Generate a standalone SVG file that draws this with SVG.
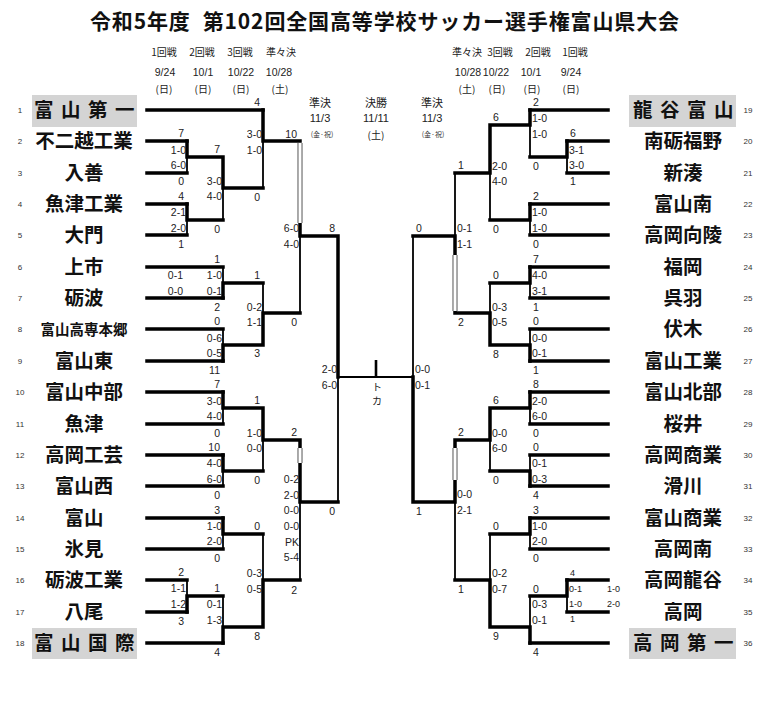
<svg xmlns="http://www.w3.org/2000/svg" width="769" height="707" viewBox="0 0 769 707">
<style>
.bg{fill:#fff}
.k{stroke:#000;stroke-width:3.5;fill:none;stroke-linecap:square}
.t{stroke:#000;stroke-width:1.8;fill:none}
.dbo{stroke:#8a8a8a;stroke-width:5.5;fill:none}
.dbi{stroke:#fff;stroke-width:2.6;fill:none}
.box{fill:#d4d4d4}
.n{font-family:"Noto Sans CJK JP","Noto Sans",sans-serif;font-size:19.5px;font-weight:bold;text-anchor:middle;fill:#111}
.sp{letter-spacing:7.5px}
.no{font-family:"Liberation Sans",Arial,sans-serif;font-size:8px;text-anchor:middle;fill:#333}
.s{font-family:"Liberation Sans",Arial,sans-serif;font-size:10.5px;fill:#222}
.sm{font-size:9px}
.l{text-anchor:end}
.r{text-anchor:start}
.h{font-family:"Noto Sans CJK JP","Liberation Sans",sans-serif;font-size:10px;text-anchor:middle;fill:#222}
.d{font-family:"Liberation Sans","Noto Sans CJK JP",sans-serif;font-size:10.5px;text-anchor:middle;fill:#222}
.dd{font-family:"Noto Sans CJK JP",sans-serif;font-size:10px;text-anchor:middle;fill:#222}
.hs{font-family:"Noto Sans CJK JP",sans-serif;font-size:11px;text-anchor:middle;fill:#222}
.ds{font-family:"Liberation Sans",sans-serif;font-size:11px;text-anchor:middle;fill:#222}
.ss{font-family:"Noto Sans CJK JP",sans-serif;font-size:7px;text-anchor:middle;fill:#333}
.ttl{font-family:"Noto Sans CJK JP","Noto Sans",sans-serif;font-size:21px;font-weight:bold;fill:#111}
</style>
<rect class="bg" x="0" y="0" width="769" height="707"/>

<g id="title">
<text class="ttl" x="90" y="29" textLength="589" lengthAdjust="spacing">令和5年度<tspan dx="12">第102回全国高等学校サッカー選手権富山県大会</tspan></text>
</g>

<g id="headers">
<text class="h" x="164" y="56">1回戦</text>
<text class="h" x="202" y="56">2回戦</text>
<text class="h" x="240" y="56">3回戦</text>
<text class="h" x="281" y="56">準々決</text>
<text class="d" x="165" y="76">9/24</text>
<text class="d" x="203" y="76">10/1</text>
<text class="d" x="241" y="76">10/22</text>
<text class="d" x="279" y="76">10/28</text>
<text class="dd" x="164" y="93">(日)</text>
<text class="dd" x="203" y="93">(日)</text>
<text class="dd" x="241" y="93">(日)</text>
<text class="dd" x="280" y="93">(土)</text>

<text class="h" x="467" y="56">準々決</text>
<text class="h" x="500" y="56">3回戦</text>
<text class="h" x="538" y="56">2回戦</text>
<text class="h" x="575" y="56">1回戦</text>
<text class="d" x="468" y="76">10/28</text>
<text class="d" x="496" y="76">10/22</text>
<text class="d" x="531" y="76">10/1</text>
<text class="d" x="571" y="76">9/24</text>
<text class="dd" x="467" y="93">(土)</text>
<text class="dd" x="497" y="93">(日)</text>
<text class="dd" x="532" y="93">(日)</text>
<text class="dd" x="571" y="93">(日)</text>

<text class="hs" x="320" y="107">準決</text>
<text class="ds" x="320" y="122">11/3</text>
<text class="ss" x="322" y="137">(金·祝)</text>
<text class="hs" x="376" y="107">決勝</text>
<text class="ds" x="376" y="122">11/11</text>
<text class="dd" x="376" y="139">(土)</text>
<text class="hs" x="432" y="107">準決</text>
<text class="ds" x="432" y="122">11/3</text>
<text class="ss" x="433" y="137">(金·祝)</text>
</g>

<g id="team-1"><rect class="box" x="32" y="95" width="105" height="32"/><text class="n sp" x="88" y="117">富山第一</text><text class="no" x="20" y="113">1</text></g>
<g id="team-2"><text class="n" x="84" y="148">不二越工業</text><text class="no" x="20" y="144">2</text></g>
<g id="team-3"><text class="n" x="84" y="180">入善</text><text class="no" x="20" y="176">3</text></g>
<g id="team-4"><text class="n" x="84" y="211">魚津工業</text><text class="no" x="20" y="207">4</text></g>
<g id="team-5"><text class="n" x="84" y="242">大門</text><text class="no" x="20" y="238">5</text></g>
<g id="team-6"><text class="n" x="84" y="274">上市</text><text class="no" x="20" y="270">6</text></g>
<g id="team-7"><text class="n" x="84" y="305">砺波</text><text class="no" x="20" y="301">7</text></g>
<g id="team-8"><text class="n" x="84" y="335" style="font-size:14.5px">富山高専本郷</text><text class="no" x="20" y="332">8</text></g>
<g id="team-9"><text class="n" x="84" y="368">富山東</text><text class="no" x="20" y="364">9</text></g>
<g id="team-10"><text class="n" x="84" y="399">富山中部</text><text class="no" x="20" y="395">10</text></g>
<g id="team-11"><text class="n" x="84" y="431">魚津</text><text class="no" x="20" y="427">11</text></g>
<g id="team-12"><text class="n" x="84" y="462">高岡工芸</text><text class="no" x="20" y="458">12</text></g>
<g id="team-13"><text class="n" x="84" y="493">富山西</text><text class="no" x="20" y="489">13</text></g>
<g id="team-14"><text class="n" x="84" y="525">富山</text><text class="no" x="20" y="521">14</text></g>
<g id="team-15"><text class="n" x="84" y="556">氷見</text><text class="no" x="20" y="552">15</text></g>
<g id="team-16"><text class="n" x="84" y="587">砺波工業</text><text class="no" x="20" y="583">16</text></g>
<g id="team-17"><text class="n" x="84" y="619">八尾</text><text class="no" x="20" y="615">17</text></g>
<g id="team-18"><rect class="box" x="32" y="628" width="105" height="31"/><text class="n sp" x="88" y="650">富山国際</text><text class="no" x="20" y="646">18</text></g>

<g id="team-19"><rect class="box" x="629" y="95" width="107" height="32"/><text class="n sp" x="687" y="117">龍谷富山</text><text class="no" x="748" y="113">19</text></g>
<g id="team-20"><text class="n" x="683" y="148">南砺福野</text><text class="no" x="748" y="144">20</text></g>
<g id="team-21"><text class="n" x="683" y="180">新湊</text><text class="no" x="748" y="176">21</text></g>
<g id="team-22"><text class="n" x="683" y="211">富山南</text><text class="no" x="748" y="207">22</text></g>
<g id="team-23"><text class="n" x="683" y="242">高岡向陵</text><text class="no" x="748" y="238">23</text></g>
<g id="team-24"><text class="n" x="683" y="274">福岡</text><text class="no" x="748" y="270">24</text></g>
<g id="team-25"><text class="n" x="683" y="305">呉羽</text><text class="no" x="748" y="301">25</text></g>
<g id="team-26"><text class="n" x="683" y="336">伏木</text><text class="no" x="748" y="332">26</text></g>
<g id="team-27"><text class="n" x="683" y="368">富山工業</text><text class="no" x="748" y="364">27</text></g>
<g id="team-28"><text class="n" x="683" y="399">富山北部</text><text class="no" x="748" y="395">28</text></g>
<g id="team-29"><text class="n" x="683" y="431">桜井</text><text class="no" x="748" y="427">29</text></g>
<g id="team-30"><text class="n" x="683" y="462">高岡商業</text><text class="no" x="748" y="458">30</text></g>
<g id="team-31"><text class="n" x="683" y="493">滑川</text><text class="no" x="748" y="489">31</text></g>
<g id="team-32"><text class="n" x="683" y="525">富山商業</text><text class="no" x="748" y="521">32</text></g>
<g id="team-33"><text class="n" x="683" y="556">高岡南</text><text class="no" x="748" y="552">33</text></g>
<g id="team-34"><text class="n" x="683" y="587">高岡龍谷</text><text class="no" x="748" y="583">34</text></g>
<g id="team-35"><text class="n" x="683" y="619">高岡</text><text class="no" x="748" y="615">35</text></g>
<g id="team-36"><rect class="box" x="629" y="628" width="107" height="31"/><text class="n sp" x="687" y="650">高岡第一</text><text class="no" x="748" y="646">36</text></g>

<g id="connectors">
<path class="t" d="M187 157V173 M187 220V235 M223 188V220 M263 141V188 M223 267V283 M223 329V345 M263 283V313 M300 236V313 M223 408V424 M223 471V486 M263 440V471 M223 534V549 M187 580V596 M223 596V627 M263 534V580 M300 502V580 M338 377V502 M338 377H413"/>
<path class="t" d="M567 157V173 M530 125V157 M530 220V235 M490 173V220 M530 283V298 M530 329V345 M490 283V313 M455 173V236 M530 408V424 M530 455V471 M490 440V471 M530 534V549 M567 596V612 M530 596V627 M490 534V580 M455 502V580 M413 236V377"/>
<path class="t" d="M376 360V377" style="stroke-width:2.6"/>
<path class="k" d="M147 110H263 M147 141H187 M147 173H187 M147 204H187 M147 235H187 M147 267H223 M147 298H223 M147 329H223 M147 361H223 M147 392H223 M147 424H223 M147 455H223 M147 486H223 M147 518H223 M147 549H223 M147 580H187 M147 612H187 M147 643H223"/>
<path class="k" d="M187 141V157H223 M187 204V220H223 M223 157V188H263 M263 110V141H300 M223 298V283H263 M223 361V345H263 M263 345V313H300 M300 223V236H338 M223 392V408H263 M223 455V471H263 M263 408V440H300 M223 518V534H263 M187 612V596H223 M223 643V627H263 M263 627V580H300 M300 440V448 M300 463V502H338 M338 236V377"/>
<path class="k" d="M530 110H608 M567 141H608 M567 173H608 M530 204H608 M530 235H608 M530 267H608 M530 298H608 M530 329H608 M530 361H608 M530 392H608 M530 424H608 M530 455H608 M530 486H608 M530 518H608 M530 549H608 M567 580H608 M567 612H608 M530 643H608"/>
<path class="k" d="M567 141V157H530 M530 110V125H490 M530 204V220H490 M490 125V173H455 M530 267V283H490 M530 361V345H490 M490 345V313H455 M455 313V311 M455 255V236H413 M530 392V408H490 M530 486V471H490 M490 408V440H455 M530 518V534H490 M567 580V596H530 M530 643V627H490 M490 627V580H455 M455 440V448 M455 480V502H413 M413 502V377"/>
<path class="dbo" d="M300 143V223 M300 448V463 M455 255V311 M455 448V480"/>
<path class="dbi" d="M300 143V223 M300 448V463 M455 255V311 M455 448V480"/>
</g>

<g id="final-label">
<text class="dd" x="377" y="391">ト</text>
<text class="dd" x="377" y="405">カ</text>
</g>

<g id="scores" class="s">
<g class="l">
<text x="184" y="137">7</text><text x="186" y="154">1-0</text><text x="186" y="169">6-0</text><text x="184" y="185">0</text>
<text x="184" y="200">4</text><text x="186" y="216">2-1</text><text x="186" y="232">2-0</text><text x="184" y="248">1</text>
<text x="220" y="153">7</text><text x="222" y="185">3-0</text><text x="222" y="200">4-0</text><text x="220" y="233">0</text>
<text x="260" y="106">4</text><text x="262" y="138">3-0</text><text x="262" y="154">1-0</text><text x="260" y="201">0</text>
<text x="220" y="263">1</text><text x="222" y="279">1-0</text><text x="222" y="295">0-1</text><text x="183" y="279">0-1</text><text x="183" y="295">0-0</text><text x="220" y="311">2</text>
<text x="220" y="325">0</text><text x="222" y="342">0-6</text><text x="222" y="357">0-5</text><text x="220" y="374">11</text>
<text x="260" y="279">1</text><text x="262" y="311">0-2</text><text x="262" y="326">1-1</text><text x="260" y="357">3</text>
<text x="297" y="138">10</text><text x="299" y="232">6-0</text><text x="299" y="248">4-0</text><text x="297" y="326">0</text>
<text x="220" y="388">7</text><text x="222" y="405">3-0</text><text x="222" y="420">4-0</text><text x="220" y="437">0</text>
<text x="220" y="451">10</text><text x="222" y="467">4-0</text><text x="222" y="483">6-0</text><text x="220" y="499">0</text>
<text x="260" y="404">1</text><text x="262" y="437">1-0</text><text x="262" y="452">0-0</text><text x="260" y="484">0</text>
<text x="220" y="514">3</text><text x="222" y="530">1-0</text><text x="222" y="545">2-0</text><text x="220" y="562">0</text>
<text x="184" y="576">2</text><text x="186" y="592">1-1</text><text x="186" y="608">1-2</text><text x="184" y="625">3</text>
<text x="220" y="592">1</text><text x="222" y="608">0-1</text><text x="222" y="624">1-3</text><text x="220" y="656">4</text>
<text x="260" y="530">0</text><text x="262" y="577">0-3</text><text x="262" y="593">0-5</text><text x="260" y="640">8</text>
<text x="297" y="436">2</text><text x="299" y="483">0-2</text><text x="299" y="499">2-0</text><text x="299" y="514">0-0</text><text x="299" y="530">0-0</text><text x="299" y="546">PK</text><text x="299" y="561">5-4</text><text x="297" y="594">2</text>
<text x="335" y="232">8</text><text x="337" y="373">2-0</text><text x="337" y="389">6-0</text><text x="335" y="515">0</text>
</g>
<g class="r">
<text x="570" y="137">6</text><text x="569" y="154">3-1</text><text x="569" y="169">3-0</text><text x="570" y="185">1</text>
<text x="533" y="106">2</text><text x="532" y="122">1-0</text><text x="532" y="138">1-0</text><text x="533" y="170">0</text>
<text x="533" y="200">2</text><text x="532" y="216">1-0</text><text x="532" y="232">1-0</text><text x="533" y="248">0</text>
<text x="493" y="121">6</text><text x="492" y="170">2-0</text><text x="492" y="185">4-0</text><text x="493" y="233">0</text>
<text x="533" y="263">7</text><text x="532" y="279">4-0</text><text x="532" y="295">3-1</text><text x="533" y="311">1</text>
<text x="533" y="325">0</text><text x="532" y="342">0-0</text><text x="532" y="357">0-1</text><text x="533" y="374">1</text>
<text x="493" y="279">0</text><text x="492" y="311">0-3</text><text x="492" y="326">0-5</text><text x="493" y="358">8</text>
<text x="458" y="169">1</text><text x="457" y="232">0-1</text><text x="457" y="248">1-1</text><text x="458" y="326">2</text>
<text x="533" y="388">8</text><text x="532" y="405">2-0</text><text x="532" y="420">6-0</text><text x="533" y="437">0</text>
<text x="533" y="451">0</text><text x="532" y="467">0-1</text><text x="532" y="483">0-3</text><text x="533" y="499">4</text>
<text x="493" y="404">6</text><text x="492" y="437">0-0</text><text x="492" y="452">6-0</text><text x="493" y="484">0</text>
<text x="533" y="514">3</text><text x="532" y="530">1-0</text><text x="532" y="545">2-0</text><text x="533" y="562">0</text>
<g class="sm"><text x="570" y="576">4</text><text x="569" y="592">0-1</text><text x="569" y="607">1-0</text><text x="570" y="622">1</text><text x="607" y="592">1-0</text><text x="607" y="607">2-0</text></g>
<text x="533" y="593">0</text><text x="532" y="608">0-3</text><text x="532" y="624">0-1</text><text x="533" y="656">4</text>
<text x="493" y="530">0</text><text x="492" y="577">0-2</text><text x="492" y="593">0-7</text><text x="493" y="640">9</text>
<text x="458" y="436">2</text><text x="457" y="498">0-0</text><text x="457" y="514">2-1</text><text x="458" y="593">1</text>
<text x="416" y="232">0</text><text x="415" y="373">0-0</text><text x="415" y="389">0-1</text><text x="416" y="515">1</text>
</g>
</g>
</svg>
